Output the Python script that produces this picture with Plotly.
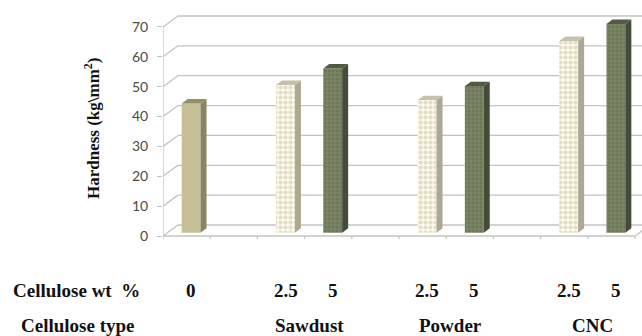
import plotly.graph_objects as go

# ---- data -------------------------------------------------------------
wt_labels = ["0", "2.5", "5", "2.5", "5", "2.5", "5"]
cellulose_types = ["", "Sawdust", "Sawdust", "Powder", "Powder", "CNC", "CNC"]
slots = [0, 2, 3, 5, 6, 8, 9]          # column slot of each bar (gaps between groups)
hardness = [43.3, 49.5, 55.0, 44.4, 49.1, 64.2, 69.9]
fill_style = ["plain", "light", "dark", "light", "dark", "light", "dark"]
y_ticks = [0, 10, 20, 30, 40, 50, 60, 70]
group_names = ["Sawdust", "Powder", "CNC"]

# ---- geometry of the pseudo-3D box -------------------------------------
W, H = 642, 336
ML, MR, MT, MB = 163, 0, 5, 91
SLOT_PX = 47.2          # pixels per column slot
PX_PER_UNIT = 2.986     # pixels per hardness unit
N_SLOTS = 10
DEPTH_X = 15 / SLOT_PX          # wall depth, in x units
DEPTH_Y = 11 / PX_PER_UNIT      # wall depth, in value units
BAR_FRONT, BAR_BACK = 0.3, 0.7  # bar position inside the depth
BAR_W = 0.40

x0 = -0.5
x_end = x0 + N_SLOTS
plot_w = W - ML - MR
plot_h = H - MT - MB
x_range = [x0, x0 + plot_w / SLOT_PX]
zero_px = 236 - MT
y_range = [-(plot_h - zero_px) / PX_PER_UNIT, zero_px / PX_PER_UNIT]

GRID = "#c3c3c3"

face_colors = {
    "plain": dict(front="#c6bf98", side="#8a8561", top="#948e69"),
    "light": dict(front="#fbf9ea", side="#aca892", top="#c5c1aa"),
    "dark": dict(front="#76815f", side="#444b39", top="#515a44"),
}
patterns = {
    "plain": dict(shape=""),
    "light": dict(shape=".", fgcolor="#c8c1a0", bgcolor="#fcfaec", size=5, solidity=0.55),
    "dark": dict(shape=".", fgcolor="#5b6549", bgcolor="#7b8665", size=4, solidity=0.45),
}

fig = go.Figure()
shapes = []


def line(xa, ya, xb, yb, color=GRID, width=1.3):
    shapes.append(dict(type="line", xref="x", yref="y", x0=xa, y0=ya, x1=xb, y1=yb,
                       line=dict(color=color, width=width), layer="below"))


# back wall gridlines and left wall slants
for v in y_ticks:
    line(x0 + DEPTH_X, v + DEPTH_Y, x_end + DEPTH_X + 1, v + DEPTH_Y)
    line(x0, v, x0 + DEPTH_X, v + DEPTH_Y)
# left axis line
line(x0, 0, x0, y_ticks[-1])
# floor: front edge, right edge and tick marks
line(x0, 0, x_end, 0)
line(x_end, 0, x_end + DEPTH_X, DEPTH_Y)
for k in range(N_SLOTS + 1):
    line(x0 + k, 0, x0 + k, -1.0)

# bars: front faces through the bar trace, depth faces as filled polygons
dx_f, dy_f = BAR_FRONT * DEPTH_X, BAR_FRONT * DEPTH_Y
dx_d, dy_d = (BAR_BACK - BAR_FRONT) * DEPTH_X, (BAR_BACK - BAR_FRONT) * DEPTH_Y
centers = [s + dx_f for s in slots]

for c, v, st in zip(centers, hardness, fill_style):
    col = face_colors[st]
    fig.add_trace(go.Bar(
        x=[c], y=[v], base=[dy_f], width=BAR_W,
        marker=dict(color=col["front"], line=dict(width=0), pattern=patterns[st]),
        showlegend=False, hoverinfo="skip"))

for c, v, st in zip(centers, hardness, fill_style):
    col = face_colors[st]
    xl, xr = c - BAR_W / 2, c + BAR_W / 2
    top = v + dy_f
    # right side face
    fig.add_trace(go.Scatter(
        x=[xr, xr + dx_d, xr + dx_d, xr, xr],
        y=[dy_f, dy_f + dy_d, top + dy_d, top, dy_f],
        fill="toself", fillcolor=col["side"], mode="lines",
        line=dict(width=0, color=col["side"]), showlegend=False, hoverinfo="skip"))
    # top face
    fig.add_trace(go.Scatter(
        x=[xl, xr, xr + dx_d, xl + dx_d, xl],
        y=[top, top, top + dy_d, top + dy_d, top],
        fill="toself", fillcolor=col["top"], mode="lines",
        line=dict(width=0, color=col["top"]), showlegend=False, hoverinfo="skip"))

# ---- text below the plot ---------------------------------------------------
SERIF = "Liberation Serif, Times New Roman, serif"
TEXT_FONT = dict(family=SERIF, size=19, color="#111111")
ann = []


def paper_y(px):
    return (H - MB - px) / plot_h


def paper_x(px):
    return (px - ML) / plot_w


row1, row2 = paper_y(290), paper_y(325)
ann.append(dict(text="<b>Cellulose wt  %</b>", xref="paper", yref="paper",
                x=paper_x(11), y=row1, xanchor="left", yanchor="middle",
                showarrow=False, font=TEXT_FONT))
ann.append(dict(text="<b>Cellulose type</b>", xref="paper", yref="paper",
                x=paper_x(19), y=row2, xanchor="left", yanchor="middle",
                showarrow=False, font=TEXT_FONT))
for c, lab in zip(centers, wt_labels):
    ann.append(dict(text=f"<b>{lab}</b>", xref="x", yref="paper", x=c, y=row1,
                    xanchor="center", yanchor="middle", showarrow=False,
                    font=TEXT_FONT))
for g in group_names:
    cs = [c for c, t in zip(centers, cellulose_types) if t == g]
    ann.append(dict(text=f"<b>{g}</b>", xref="x", yref="paper", x=sum(cs) / len(cs), y=row2,
                    xanchor="center", yanchor="middle", showarrow=False,
                    font=TEXT_FONT))
ann.append(dict(text="<b>Hardness (kg\\mm<sup>2</sup>)</b>", xref="paper", yref="paper",
                x=paper_x(92), y=paper_y(128), xanchor="center", yanchor="middle",
                textangle=-90, showarrow=False,
                font=dict(family=SERIF, size=17, color="#111111")))

fig.update_layout(
    width=W, height=H,
    margin=dict(l=ML, r=MR, t=MT, b=MB),
    paper_bgcolor="white", plot_bgcolor="white",
    barmode="overlay",
    shapes=shapes,
    annotations=ann,
    xaxis=dict(range=x_range, visible=False, fixedrange=True),
    yaxis=dict(range=y_range, tickvals=y_ticks, ticks="outside", ticklen=5,
               tickcolor=GRID, tickwidth=1.3, showgrid=False, zeroline=False,
               showline=False, ticklabelstandoff=6,
               tickfont=dict(family="Lato, Open Sans, sans-serif", size=14, color="#4a4a4a"),
               fixedrange=True),
)

fig.write_html("out.html")
